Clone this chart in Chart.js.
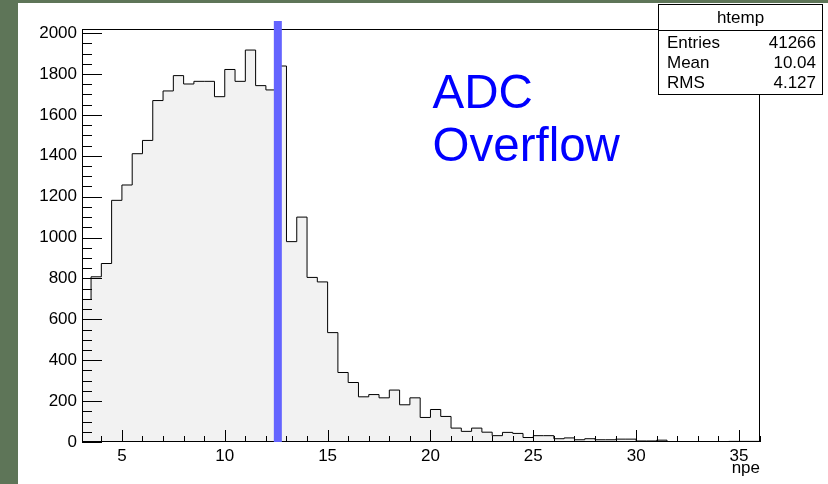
<!DOCTYPE html>
<html><head><meta charset="utf-8">
<script src="https://cdn.jsdelivr.net/npm/chart.js@4"></script>
<style>
html,body{margin:0;padding:0;background:#5e7558;width:828px;height:484px;overflow:hidden}
#wrap{position:absolute;left:18px;top:3px;width:810px;height:481px;background:#fff}
canvas{display:block}
</style></head><body><div id="wrap"><canvas id="c" width="810" height="481"></canvas></div>
<script>
// ---- data ----
const binLowEdges = [3.0,3.5,4.0,4.5,5.0,5.5,6.0,6.5,7.0,7.5,8.0,8.5,9.0,9.5,10.0,10.5,11.0,11.5,12.0,12.5,
  13.0,13.5,14.0,14.5,15.0,15.5,16.0,16.5,17.0,17.5,18.0,18.5,19.0,19.5,20.0,20.5,21.0,21.5,22.0,22.5,
  23.0,23.5,24.0,24.5,25.0,25.5,26.0,26.5,27.0,27.5,28.0,28.5,29.0,29.5,30.0,30.5,31.0,31.5,32.0,32.5,
  33.0,33.5,34.0,34.5,35.0,35.5];
const binCounts = [697,808,873,1182,1257,1410,1475,1670,1717,1792,1751,1764,1764,1689,1822,1764,1917,1743,1722,1839,
  980,1100,805,783,535,340,291,221,232,216,254,182,216,120,159,125,68,52,68,48,
  31,47,42,22,31,31,16,20,11,16,11,11,14,14,5,5,9,2,0,0,
  0,0,1,3,3,3];
const binWidth = 0.5;
const xRange = [3.06, 36.02];
const yRange = [0, 2020];
const xTickLabels = [5,10,15,20,25,30,35];
const yTickLabels = [0,200,400,600,800,1000,1200,1400,1600,1800,2000];
const xTitle = 'npe';
const statsTitle = 'htemp';
const statsNames = ['Entries','Mean','RMS'];
const statsValues = ['41266','10.04','4.127'];
const overflowX = 12.58;
const overflowText = ['ADC','Overflow'];
const overflowTextX = 20.1;
const overflowTextY = [1635, 1372];

const FONT = 'Liberation Sans';
const last = binLowEdges.length - 1;
const points = binLowEdges.map((e,i)=>({x:e, y:binCounts[i]}));
points.push({x: binLowEdges[last] + binWidth, y: binCounts[last]});

const rootPlugin = {
  id:'rootStyle',
  afterDatasetsDraw(chart){
    const {ctx, chartArea:a, scales:{x, y}} = chart;
    ctx.save();
    ctx.strokeStyle = '#000'; ctx.lineWidth = 1;
    ctx.beginPath();
    // frame
    ctx.moveTo(a.left, a.top + 0.5); ctx.lineTo(a.right, a.top + 0.5);
    ctx.moveTo(a.right - 0.5, a.top); ctx.lineTo(a.right - 0.5, a.bottom);
    ctx.moveTo(a.left + 0.5, a.top); ctx.lineTo(a.left + 0.5, a.bottom);
    ctx.moveTo(a.left, a.bottom - 0.5); ctx.lineTo(a.right, a.bottom - 0.5);
    // y ticks (inward)
    for (let v = 0; v <= yRange[1]; v += 50) {
      const py = Math.round(y.getPixelForValue(v)) + 0.5;
      const len = (v % 200 === 0) ? 20 : 10;
      ctx.moveTo(a.left, py); ctx.lineTo(a.left + len, py);
    }
    // x ticks (inward)
    for (let v = Math.ceil(xRange[0]); v <= xRange[1]; v += 1) {
      const px = Math.round(x.getPixelForValue(v)) + 0.5;
      const len = (v % 5 === 0) ? 12 : 6;
      ctx.moveTo(px, a.bottom); ctx.lineTo(px, a.bottom - len);
    }
    ctx.stroke();
    // overflow marker line
    const bx = x.getPixelForValue(overflowX);
    ctx.fillStyle = '#6464ff';
    ctx.fillRect(bx - 4, a.top - 8, 8, a.bottom - a.top + 8);
    // annotation text
    ctx.fillStyle = '#0000ff';
    ctx.font = '47.5px "' + FONT + '"';
    ctx.textBaseline = 'alphabetic'; ctx.textAlign = 'left';
    overflowText.forEach((t,i)=>ctx.fillText(t, x.getPixelForValue(overflowTextX), y.getPixelForValue(overflowTextY[i])));
    // axis title
    ctx.fillStyle = '#000';
    ctx.font = '17px "' + FONT + '"';
    ctx.textAlign = 'right'; ctx.textBaseline = 'alphabetic';
    ctx.fillText(xTitle, a.right, a.bottom + 31);
    ctx.restore();
  },
  afterDraw(chart){
    const {ctx} = chart;
    const bx0 = 640.5, bx1 = 804.5, by0 = 1.5, by1 = 91.5, hy = 27.5;
    ctx.save();
    ctx.fillStyle = '#fff';
    ctx.fillRect(bx0, by0, bx1 - bx0, by1 - by0);
    ctx.strokeStyle = '#000'; ctx.lineWidth = 1;
    ctx.strokeRect(bx0, by0, bx1 - bx0, by1 - by0);
    ctx.beginPath(); ctx.moveTo(bx0, hy); ctx.lineTo(bx1, hy); ctx.stroke();
    ctx.fillStyle = '#000';
    ctx.font = '17px "' + FONT + '"';
    ctx.textBaseline = 'middle';
    ctx.textAlign = 'center';
    ctx.fillText(statsTitle, (bx0 + bx1) / 2, 15);
    statsNames.forEach((n,i)=>{
      const ty = 40 + i * 20;
      ctx.textAlign = 'left'; ctx.fillText(n, 649, ty);
      ctx.textAlign = 'right'; ctx.fillText(statsValues[i], 798, ty);
    });
    ctx.restore();
  }
};

new Chart(document.getElementById('c'), {
  type: 'line',
  data: { datasets: [{
    data: points, stepped: 'before', borderColor: '#000', borderWidth: 1,
    backgroundColor: '#f2f2f2', fill: 'origin', pointRadius: 0
  }]},
  options: {
    responsive: false, animation: false, devicePixelRatio: 1,
    layout: { padding: { left: 0, top: 26, right: 68, bottom: 0 } },
    plugins: { legend: { display: false }, tooltip: { enabled: false } },
    scales: {
      x: {
        type: 'linear', min: xRange[0], max: xRange[1],
        grid: { display: false, drawTicks: false },
        border: { display: false },
        ticks: { color: '#000', font: { family: FONT, size: 17 }, padding: 4, maxRotation: 0, autoSkip: false,
                 callback: v => String(v) },
        afterBuildTicks: s => { s.ticks = xTickLabels.map(v => ({ value: v })); },
        afterFit: s => { s.height = 42; }
      },
      y: {
        type: 'linear', min: yRange[0], max: yRange[1],
        grid: { display: false, drawTicks: false },
        border: { display: false },
        ticks: { color: '#000', font: { family: FONT, size: 17 }, padding: 5, callback: v => String(v) },
        afterBuildTicks: s => { s.ticks = yTickLabels.map(v => ({ value: v })); },
        afterFit: s => { s.width = 64; }
      }
    }
  },
  plugins: [rootPlugin]
});
</script></body></html>
